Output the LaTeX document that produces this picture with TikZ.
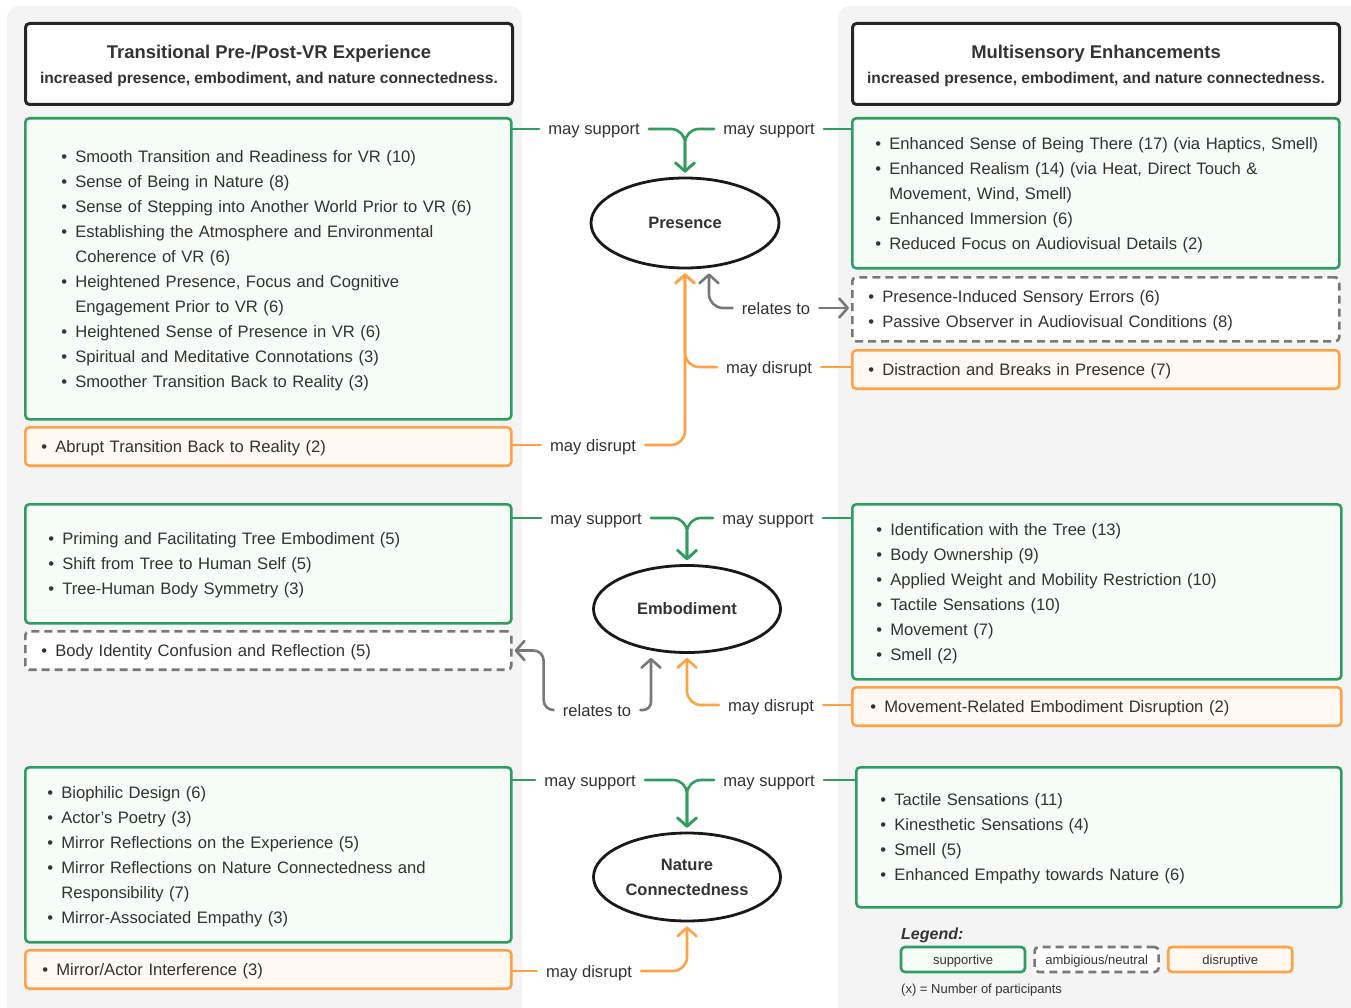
\documentclass[tikz,border=0pt]{standalone}
\usepackage{fontspec}
\setmainfont{Liberation Sans}
\usetikzlibrary{arrows.meta,shapes.geometric,positioning}

\definecolor{supgreen}{HTML}{2E9D5E}
\definecolor{supfill}{HTML}{F6FCF8}
\definecolor{disorange}{HTML}{FFA245}
\definecolor{disfill}{HTML}{FFF8F3}
\definecolor{neugrey}{HTML}{787878}
\definecolor{panelgrey}{HTML}{F4F4F4}
\definecolor{txt}{HTML}{333333}

\newcommand{\bodyfont}{\fontsize{16.6}{25}\selectfont}
\newlength{\lm}
\newcommand{\itm}[1]{\par\noindent\hangindent=\dimexpr\lm+14pt\relax\hangafter=1
  \hspace*{\lm}\makebox[14pt][l]{\textbullet}#1}

\begin{document}
\begin{tikzpicture}[
    x = 1pt, y = -1pt, % image pixels
    line cap = round, % round line ends
    ]

    \tikzset{
    lm/.code = {\setlength{\lm}{#1}},
    box/.style = {rectangle, rounded corners = 4pt, line width = 2.6pt,
      anchor = north west, align = left, inner xsep = 4pt, inner ysep = 0pt,
      font = \bodyfont, text = txt},
    items/.style = {execute at end node = {\par\vspace*{10pt}}},
    sbox/.style = {box, draw = supgreen, fill = supfill},
    dbox/.style = {box, draw = disorange, fill = disfill},
    nbox/.style = {box, draw = neugrey, fill = white, line cap = butt,
      dash pattern = on 8pt off 5pt},
    head/.style = {rectangle, rounded corners = 4pt, line width = 3pt,
      draw = black!85, fill = white, anchor = north west, align = center,
      minimum width = 487pt, minimum height = 81pt, text = txt, text depth = -2pt,
      font = \fontsize{15.6}{25}\selectfont\bfseries},
    concept/.style = {ellipse, draw = black!90, line width = 2.8pt, fill = white,
      inner sep = 0pt, align = center, text = txt,
      font = \fontsize{16.5}{25}\selectfont\bfseries},
    lbl/.style = {inner xsep = 9pt, inner ysep = 2pt, text height = 13pt,
      text depth = 1pt, text = txt, font = \bodyfont},
    sup/.style = {draw = supgreen, line width = 2.6pt},
    dis/.style = {draw = disorange, line width = 2.6pt},
    rel/.style = {draw = neugrey, line width = 2.6pt},
    tip/.style = {-{Straight Barb[length = 8.5pt, width = 19pt, round]},
      shorten > = 4pt},
    key/.style = {box, anchor = center, align = center, minimum width = 124pt,
      minimum height = 25pt, text height = 10pt, text depth = 0pt,
      font = \fontsize{13}{15}\selectfont},
    }

    \useasboundingbox (0,0) rectangle (1351,1008);
    \fill[white] (0,0) rectangle (1351,1008);
    \fill[panelgrey, rounded corners = 12pt] (7,6) rectangle (522,1030);
    \fill[panelgrey, rounded corners = 12pt] (838,6) rectangle (1370,1030);

    % column heads
    \node[head] (hl) at (24,22) {{\fontsize{18.4}{25}\selectfont
      Transitional Pre-/Post-VR Experience}\\
      increased presence, embodiment, and nature connectedness.};
    \node[head] (hr) at (851,22) {{\fontsize{18.4}{25}\selectfont
      Multisensory Enhancements}\\
      increased presence, embodiment, and nature connectedness.};

    % concepts
    \node[concept, minimum width = 188pt, minimum height = 90pt] (pres) at (685,223) {Presence};
    \node[concept, minimum width = 187pt, minimum height = 87pt] (emb) at (687,609) {Embodiment};
    \node[concept, minimum width = 187pt, minimum height = 88pt] (nat) at (687,877) {Nature\\Connectedness};

    % left column
    \node[sbox, items, text width = 478pt, minimum height = 301pt, lm = 32pt] (tp) at (24,117) {
      \itm{Smooth Transition and Readiness for VR (10)}
      \itm{Sense of Being in Nature (8)}
      \itm{Sense of Stepping into Another World Prior to VR (6)}
      \itm{Establishing the Atmosphere and Environmental\newline Coherence of VR (6)}
      \itm{Heightened Presence, Focus and Cognitive\newline Engagement Prior to VR (6)}
      \itm{Heightened Sense of Presence in VR (6)}
      \itm{Spiritual and Meditative Connotations (3)}
      \itm{Smoother Transition Back to Reality (3)}};
    \node[dbox, items, text width = 478pt, minimum height = 37pt, lm = 12pt] (ta) at (24,426) {
      \itm{Abrupt Transition Back to Reality (2)}};
    \node[sbox, items, text width = 478pt, minimum height = 119pt, lm = 19pt] (te) at (24,503) {
      \itm{Priming and Facilitating Tree Embodiment (5)}
      \itm{Shift from Tree to Human Self (5)}
      \itm{Tree-Human Body Symmetry (3)}};
    \node[nbox, items, text width = 478pt, minimum height = 37pt, lm = 12pt] (tb) at (24,630) {
      \itm{Body Identity Confusion and Reflection (5)}};
    \node[sbox, items, text width = 478pt, minimum height = 175pt, lm = 18pt] (tn) at (24,766) {
      \itm{Biophilic Design (6)}
      \itm{Actor's Poetry (3)}
      \itm{Mirror Reflections on the Experience (5)}
      \itm{Mirror Reflections on Nature Connectedness and\newline Responsibility (7)}
      \itm{Mirror-Associated Empathy (3)}};
    \node[dbox, items, text width = 478pt, minimum height = 38pt, lm = 13pt] (tm) at (24,949) {
      \itm{Mirror/Actor Interference (3)}};

    % right column
    \node[sbox, items, text width = 479pt, minimum height = 150pt, lm = 19pt] (rp) at (851,117) {
      \itm{Enhanced Sense of Being There (17) (via Haptics, Smell)}
      \itm{Enhanced Realism (14) (via Heat, Direct Touch \&\newline Movement, Wind, Smell)}
      \itm{Enhanced Immersion (6)}
      \itm{Reduced Focus on Audiovisual Details (2)}};
    \node[nbox, items, text width = 479pt, minimum height = 64pt, lm = 12pt] (rn) at (851,276) {
      \itm{Presence-Induced Sensory Errors (6)}
      \itm{Passive Observer in Audiovisual Conditions (8)}};
    \node[dbox, items, text width = 479pt, minimum height = 36pt, lm = 12pt] (rd) at (851,349) {
      \itm{Distraction and Breaks in Presence (7)}};
    \node[sbox, items, text width = 481pt, minimum height = 175pt, lm = 20pt] (re) at (851,503) {
      \itm{Identification with the Tree (13)}
      \itm{Body Ownership (9)}
      \itm{Applied Weight and Mobility Restriction (10)}
      \itm{Tactile Sensations (10)}
      \itm{Movement (7)}
      \itm{Smell (2)}};
    \node[dbox, items, text width = 481pt, minimum height = 37pt, lm = 14pt] (rm) at (851,686) {
      \itm{Movement-Related Embodiment Disruption (2)}};
    \node[sbox, items, text width = 477pt, minimum height = 140pt, lm = 20pt] (rs) at (855,766) {
      \itm{Tactile Sensations (11)}
      \itm{Kinesthetic Sensations (4)}
      \itm{Smell (5)}
      \itm{Enhanced Empathy towards Nature (6)}};

    % connector labels
    \node[lbl] (ps1) at (594,129) {may support};
    \node[lbl] (ps2) at (769,129) {may support};
    \node[lbl] (pd1) at (593,445) {may disrupt};
    \node[lbl] (pd2) at (769,367) {may disrupt};
    \node[lbl] (pr) at (776,308) {relates to};
    \node[lbl] (es1) at (596,518) {may support};
    \node[lbl] (es2) at (768,518) {may support};
    \node[lbl] (ed) at (771,705) {may disrupt};
    \node[lbl] (er) at (597,710) {relates to};
    \node[lbl] (ns1) at (590,780) {may support};
    \node[lbl] (ns2) at (769,780) {may support};
    \node[lbl] (nd) at (589,971) {may disrupt};

    % presence
    \draw[sup] (tp.east |- ps1) -- (ps1.west);
    \draw[sup, tip, rounded corners = 14pt] (ps1.east) -| (pres.north);
    \draw[sup] (rp.west |- ps2) -- (ps2.east);
    \draw[sup, tip, rounded corners = 14pt] (ps2.west) -| (pres.north);
    \draw[dis] (ta.east |- pd1) -- (pd1.west);
    \draw[dis, tip, rounded corners = 14pt] (pd1.east) -| (pres.south);
    \draw[dis] (rd.west |- pd2) -- (pd2.east);
    \draw[dis, tip, rounded corners = 14pt] (pd2.west) -| (pres.south);
    \draw[rel, tip, rounded corners = 14pt] (pr.west) -| ([xshift = 24pt]pres.south);
    \draw[rel, tip, shorten > = 2pt] (pr.east) -- (rn.west |- pr);

    % embodiment
    \draw[sup] (te.east |- es1) -- (es1.west);
    \draw[sup, tip, rounded corners = 14pt] (es1.east) -| (emb.north);
    \draw[sup] (re.west |- es2) -- (es2.east);
    \draw[sup, tip, rounded corners = 14pt] (es2.west) -| (emb.north);
    \draw[dis] (rm.west |- ed) -- (ed.east);
    \draw[dis, tip, rounded corners = 14pt] (ed.west) -| (emb.south);
    \draw[rel, tip, rounded corners = 8pt] (er.east) -| ([xshift = -36pt]emb.south);
    \draw[rel, tip, shorten > = 2pt, rounded corners = 10pt] (er.west) -| ([xshift = 31pt]tb.east) -- (tb.east);

    % nature connectedness
    \draw[sup] (tn.east |- ns1) -- (ns1.west);
    \draw[sup, tip, rounded corners = 14pt] (ns1.east) -| (nat.north);
    \draw[sup] (rs.west |- ns2) -- (ns2.east);
    \draw[sup, tip, rounded corners = 14pt] (ns2.west) -| (nat.north);
    \draw[dis] (tm.east |- nd) -- (nd.west);
    \draw[dis, tip, rounded corners = 14pt] (nd.east) -| (nat.south);

    % legend
    \node[anchor = west, inner sep = 0pt, text = txt,
      font = \fontsize{16}{18}\selectfont\bfseries\itshape] (leg) at (901,935) {Legend:};
    \node[sbox, key] (ksup) at (963,959.5) {supportive};
    \node[nbox, key, right = 7pt of ksup] (kneu) {ambigious/neutral};
    \node[dbox, key, right = 7pt of kneu] (kdis) {disruptive};
    \node[anchor = west, inner sep = 0pt, text = txt,
      font = \fontsize{13}{15}\selectfont] (note) at (901,990) {(x) = Number of participants};
\end{tikzpicture}
\end{document}
